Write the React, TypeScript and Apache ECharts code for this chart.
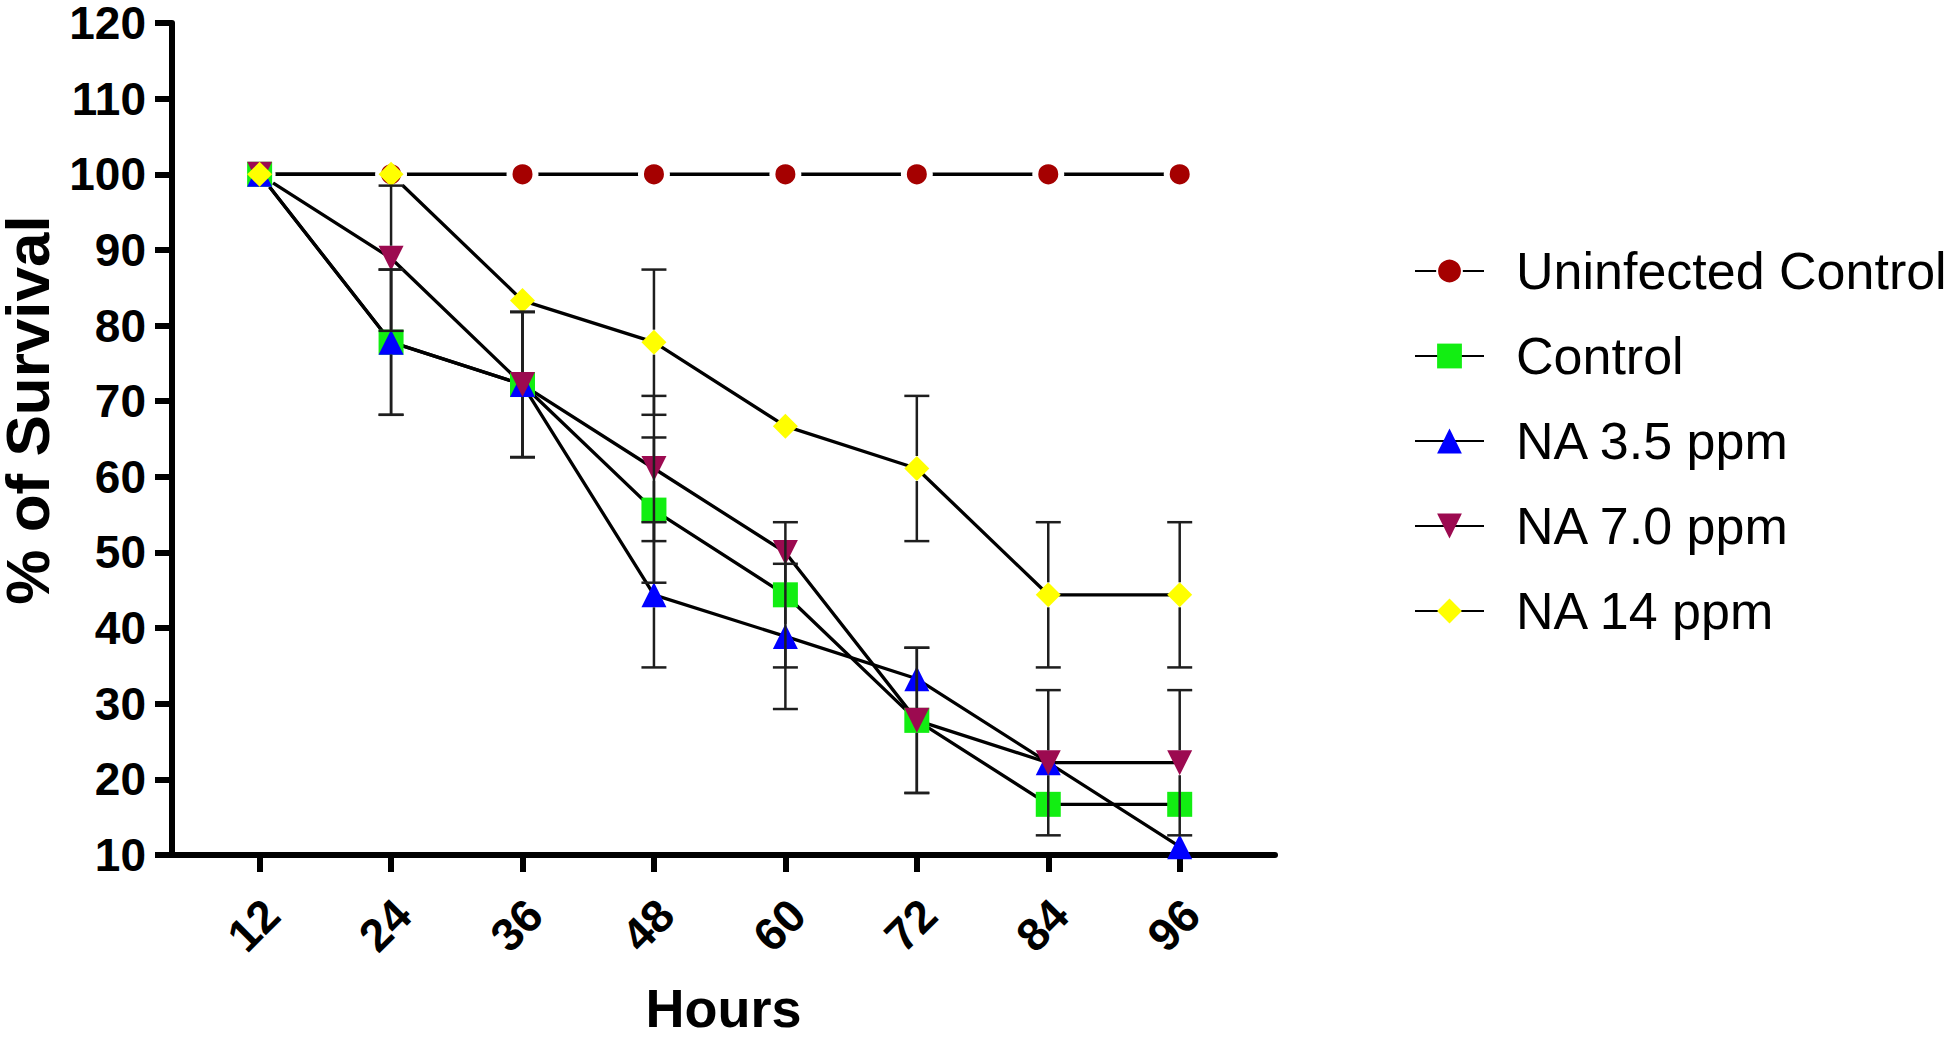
import React, { useEffect, useRef } from "react";
import * as echarts from "echarts";

const hours = [12, 24, 36, 48, 60, 72, 84, 96];
const seriesNames = ["Uninfected Control", "Control", "NA 3.5 ppm", "NA 7.0 ppm", "NA 14 ppm"];

const uninfectedVals = [100, 100, 100, 100, 100, 100, 100, 100];
const controlVals = [100, 77.8, 72.2, 55.6, 44.4, 27.8, 16.7, 16.7];
const na35Vals = [100, 77.8, 72.2, 44.4, 38.9, 33.3, 22.2, 11.1];
const na70Vals = [100, 88.9, 72.2, 61.1, 50, 27.8, 22.2, 22.2];
const na14Vals = [100, 100, 83.3, 77.8, 66.7, 61.1, 44.4, 44.4];

const uninfectedErr = [0, 0, 0, 0, 0, 0, 0, 0];
const controlErr = [0, 9.6, 9.6, 9.6, 9.6, 9.6, 0, 0];
const na35Err = [0, 9.6, 9.6, 9.6, 9.6, 0, 0, 0];
const na70Err = [0, 9.6, 9.6, 9.6, 0, 9.6, 9.6, 9.6];
const na14Err = [0, 0, 0, 9.6, 0, 9.6, 9.6, 9.6];

const FONT = "'Liberation Sans', Arial, Helvetica, sans-serif";

export default function App() {
  const ref = useRef<HTMLDivElement>(null);

  useEffect(() => {
    if (!ref.current) return;
    const chart = echarts.init(ref.current, undefined, { renderer: "svg" });

    const values = [uninfectedVals, controlVals, na35Vals, na70Vals, na14Vals];
    const errs = [uninfectedErr, controlErr, na35Err, na70Err, na14Err];
    const colors = ["#A50000", "#12EE12", "#0000FF", "#9C0A50", "#FFFF00"];
    const symbols = ["circle", "rect", "triangle", "triangle", "diamond"];
    const sizes = [26, 25, 25, 25, 25];
    const rotates = [0, 0, 0, 180, 0];

    const lineSeries = seriesNames.map((name, k) => ({
      name,
      type: "line",
      data: hours.map((h, i) => [h, values[k][i]]),
      symbol: symbols[k],
      symbolSize: sizes[k],
      symbolRotate: rotates[k],
      itemStyle:
        k === 0
          ? { color: colors[k], borderColor: "#ffffff", borderWidth: 6 }
          : { color: colors[k], borderWidth: 0 },
      lineStyle: { color: "#000000", width: 3.3 },
      emphasis: { disabled: true },
      clip: false,
      z: 2,
    }));

    const errSeries = seriesNames.map((name, k) => ({
      name: "err-" + name,
      type: "custom",
      clip: false,
      z: 3,
      data: hours
        .map((h, i) => [h, values[k][i], errs[k][i]])
        .filter((d) => d[2] > 0),
      encode: { x: 0, y: 1 },
      renderItem: (_params: any, api: any) => {
        const x = api.value(0);
        const y = api.value(1);
        const e = api.value(2);
        const c = api.coord([x, y]);
        const top = api.coord([x, y + e]);
        const bot = api.coord([x, y - e]);
        const half = 12.5;
        const cap = 12.5;
        const style = { stroke: "#1e1e1e", lineWidth: 2.5 };
        return {
          type: "group",
          children: [
            { type: "line", shape: { x1: c[0], y1: c[1] - half, x2: top[0], y2: top[1] }, style },
            { type: "line", shape: { x1: c[0] - cap, y1: top[1], x2: c[0] + cap, y2: top[1] }, style },
            { type: "line", shape: { x1: c[0], y1: c[1] + half, x2: bot[0], y2: bot[1] }, style },
            { type: "line", shape: { x1: c[0] - cap, y1: bot[1], x2: c[0] + cap, y2: bot[1] }, style },
          ],
        };
      },
    }));

    chart.setOption({
      animation: false,
      backgroundColor: "#ffffff",
      grid: {
        left: 172,
        right: 675,
        top: 23,
        bottom: 186,
        containLabel: false,
        outerBoundsMode: "none",
      },
      legend: {
        data: seriesNames,
        orient: "vertical",
        left: 1409,
        top: 240,
        itemWidth: 69,
        itemHeight: 31,
        itemGap: 33,
        selectedMode: false,
        textStyle: {
          fontSize: 52,
          fontFamily: FONT,
          color: "#000000",
          lineHeight: 52,
          padding: [0, 0, 0, 27],
        },
      },
      xAxis: {
        type: "value",
        min: 4,
        max: 104.7,
        name: "Hours",
        nameLocation: "middle",
        nameGap: 126,
        nameTextStyle: { fontSize: 54, fontWeight: "bold", fontFamily: FONT, color: "#000" },
        axisLine: { show: true, onZero: false, lineStyle: { color: "#000", width: 6 } },
        axisTick: { show: true, length: 17, lineStyle: { color: "#000", width: 6 }, customValues: hours },
        axisLabel: {
          customValues: hours,
          rotate: 45,
          margin: 40,
          verticalAlign: "top",
          lineHeight: 34,
          fontSize: 46,
          fontWeight: "bold",
          fontFamily: FONT,
          color: "#000",
        },
        splitLine: { show: false },
      },
      yAxis: {
        type: "value",
        min: 10,
        max: 120,
        interval: 10,
        name: "% of Survival",
        nameLocation: "middle",
        nameGap: 118,
        nameRotate: 90,
        nameTextStyle: {
          fontSize: 62,
          lineHeight: 50,
          fontWeight: "bold",
          fontFamily: FONT,
          color: "#000",
          padding: [0, 0, 0, 58],
        },
        axisLine: { show: true, onZero: false, lineStyle: { color: "#000", width: 6 } },
        axisTick: { show: true, length: 17, lineStyle: { color: "#000", width: 6 } },
        axisLabel: {
          margin: 26,
          fontSize: 46,
          lineHeight: 34,
          fontWeight: "bold",
          fontFamily: FONT,
          color: "#000",
        },
        splitLine: { show: false },
      },
      series: [...lineSeries, ...errSeries],
    });

    return () => chart.dispose();
  }, []);

  return (
    <div
      ref={ref}
      style={{ position: "fixed", left: 0, top: 0, width: "1950px", height: "1041px", background: "#fff" }}
    />
  );
}
